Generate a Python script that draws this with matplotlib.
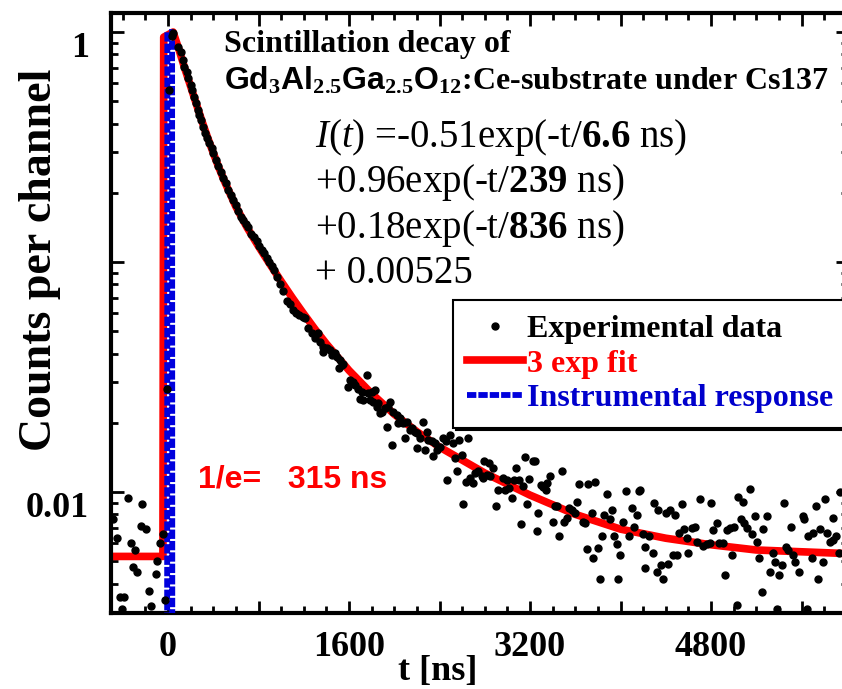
import matplotlib
matplotlib.use('Agg')
import matplotlib.pyplot as plt
from matplotlib.ticker import FixedLocator, FixedFormatter, MultipleLocator, FuncFormatter, LogLocator, NullFormatter

plt.rcParams['font.family'] = 'Liberation Serif'
plt.rcParams['font.weight'] = 'bold'
plt.rcParams['mathtext.fontset'] = 'custom'
plt.rcParams['mathtext.rm'] = 'Liberation Serif:weight=normal'
plt.rcParams['mathtext.it'] = 'Liberation Serif:style=italic:weight=normal'
plt.rcParams['mathtext.bf'] = 'Liberation Serif:weight=bold'
plt.rcParams['mathtext.sf'] = 'Liberation Sans:weight=bold'

# experimental points (t in ns, normalised counts)
exp_t = [-489, -453, -424, -407, -389, -351, -330, -307, -292, -271,
         -241, -233, -194, -168, -150, -110, -95, -71, -44, -27,
         -11, 11, 33, 47, 91, 112, 130, 141, 165, 180,
         200, 215, 230, 248, 262, 277, 292, 307, 327, 342,
         365, 386, 401, 424, 445, 469, 489, 510, 533, 554,
         577, 601, 622, 642, 666, 690, 710, 734, 760, 784,
         804, 828, 849, 872, 893, 917, 937, 966, 990, 1020,
         1052, 1080, 1105, 1130, 1160,
         1196, 1211, 1241, 1270, 1300, 1329, 1344, 1373, 1367, 1403,
         1432, 1447, 1476, 1491, 1521, 1535, 1550, 1515, 1609, 1639,
         1594, 1653, 1683, 1712, 1697, 1727, 1756, 1771, 1801, 1830,
         1786, 1815, 1860, 1845, 1889, 1874, 1919, 1963, 1948, 1992,
         2022, 2051, 2036, 2081, 2110, 2154, 2140, 2184, 2198, 2095,
         2228, 2257, 2287, 2302, 2331, 2361, 2375, 2405,
         1933, 1977, 2198, 2272, 2346,
         2433, 2457, 2492, 2522, 2575, 2654, 2537, 2596, 2551, 2469,
         2634, 2669, 2693, 2713, 2743, 2772, 2793, 2840, 2876, 2817,
         2846, 2787, 2610, 2899, 2920, 2958, 2993, 2979, 3017, 3038,
         3076, 3058, 3105, 3135, 3155, 3223, 3244, 3194, 3176, 3117,
         3259, 3273, 3294, 3318, 3353, 3377, 3341, 3400, 3421, 3441,
         3459, 3480, 3500, 3524, 3547, 3568, 3598, 3618, 3636, 3665,
         3686, 3715, 3745, 3774, 3701, 3760, 3804, 3839, 3854, 3878,
         3907, 3922, 3942, 3966, 3995, 4019, 4045, 4078, 4098, 4119,
         4143, 4163, 3818, 3981,
         4172, 4201, 4216, 4216, 4255, 4284, 4296, 4334, 4319, 4355,
         4378, 4402, 4422, 4437, 4461, 4481, 4496, 4540, 4520, 4561,
         4585, 4599, 4629, 4658, 4679, 4702, 4732, 4761, 4791, 4800,
         4820, 4856, 4873, 4903, 4923, 4944, 4968, 4982, 5003, 5041,
         5062, 5080, 5091, 5115, 5145, 5159, 5189, 5203, 5227, 5248,
         5262, 5298, 5321, 5345, 5366, 5404, 5424, 5445, 5463, 5483,
         5504, 5528, 5542, 5581, 5610, 5622, 5660, 5690, 5704, 5728,
         5743, 5763, 5787, 5808, 5822, 5852, 5875, 5881, 5905, 5934,
         5940, 5027, 5380, 5646]
exp_v = [0.0076, 0.0063, 0.0035, 0.0031, 0.0035, 0.0094, 0.0060, 0.0047, 0.0056, 0.0045,
         0.0071, 0.0089, 0.0069, 0.0037, 0.0032, 0.0044, 0.0050, 0.0060, 0.0066, 0.0034,
         0.028, 0.56, 0.96, 0.99, 0.86, 0.82, 0.755, 0.706, 0.672, 0.629,
         0.588, 0.560, 0.523, 0.490, 0.458, 0.436, 0.414, 0.388, 0.363, 0.345,
         0.328, 0.312, 0.297, 0.278, 0.262, 0.247, 0.231, 0.220, 0.206, 0.195,
         0.186, 0.177, 0.166, 0.157, 0.152, 0.147, 0.142, 0.133, 0.129, 0.123,
         0.117, 0.113, 0.109, 0.104, 0.100, 0.096, 0.092, 0.086, 0.080, 0.075,
         0.068, 0.066, 0.062, 0.060, 0.059,
         0.0578, 0.0569, 0.0515, 0.0490, 0.0466, 0.0490, 0.0451, 0.0429, 0.0408, 0.0422,
         0.0415, 0.0395, 0.0401, 0.0388, 0.0375, 0.0356, 0.0362, 0.0345, 0.0307, 0.0302,
         0.0287, 0.0292, 0.0282, 0.0273, 0.0255, 0.0251, 0.0323, 0.0269, 0.0273, 0.0278,
         0.0251, 0.0247, 0.0243, 0.0235, 0.0223, 0.0220, 0.0231, 0.0247, 0.0235, 0.0223,
         0.0216, 0.0209, 0.0199, 0.0199, 0.0202, 0.0189, 0.0186, 0.0183, 0.0180, 0.0171,
         0.0171, 0.0202, 0.0183, 0.0168, 0.0166, 0.0163, 0.0152, 0.0157,
         0.0192, 0.0160, 0.0155, 0.0152, 0.0143,
         0.0171, 0.0166, 0.0177, 0.0163, 0.0168, 0.0171, 0.0140, 0.0145, 0.0123, 0.0113,
         0.0111, 0.0115, 0.0109, 0.0121, 0.0123, 0.0117, 0.0137, 0.0134, 0.0127, 0.0119,
         0.0117, 0.0115, 0.00887, 0.00869, 0.0102, 0.0115, 0.0113, 0.0102, 0.0104, 0.00939,
         0.0127, 0.0113, 0.0113, 0.0106, 0.0142, 0.0137, 0.0136, 0.0114, 0.00887, 0.00726,
         0.00677, 0.00807, 0.0107, 0.0105, 0.0110, 0.0118, 0.0102, 0.00743, 0.00869, 0.00869,
         0.00646, 0.0124, 0.00743, 0.00769, 0.00850, 0.00836, 0.00807, 0.00902, 0.0108, 0.00743,
         0.00731, 0.0108, 0.00807, 0.0111, 0.00563, 0.00515, 0.00569, 0.00646, 0.00794, 0.00980,
         0.00760, 0.00836, 0.00644, 0.00594, 0.00532, 0.00743, 0.0101, 0.00646, 0.00850, 0.00706,
         0.00794, 0.0101, 0.00417, 0.00417,
         0.0102, 0.00656, 0.00466, 0.00578, 0.00644, 0.00545, 0.00899, 0.00836, 0.00451, 0.00482,
         0.00417, 0.00807, 0.00486, 0.00836, 0.00532, 0.00794, 0.00532, 0.00887, 0.00661, 0.00689,
         0.00630, 0.00545, 0.00695, 0.00706, 0.00608, 0.00933, 0.00582, 0.00594, 0.00598, 0.00899,
         0.00684, 0.00736, 0.00598, 0.00598, 0.00436, 0.00684, 0.00695, 0.00532, 0.00706, 0.00948,
         0.00760, 0.00902, 0.00731, 0.00695, 0.0103, 0.00656, 0.00787, 0.00608, 0.00515, 0.00369,
         0.00689, 0.00787, 0.00451, 0.00545, 0.00498, 0.00436, 0.00482, 0.00899, 0.00578, 0.00560,
         0.00706, 0.00532, 0.00498, 0.00451, 0.00787, 0.00760, 0.00644, 0.00515, 0.00661, 0.00869,
         0.00417, 0.00689, 0.00498, 0.00933, 0.00661, 0.00608, 0.00618, 0.00773, 0.00644, 0.00541,
         0.0100, 0.00323, 0.00309, 0.0031]

# 3 exp fit curve
fit_t = [-504, -45, -38, 45, 100, 150, 200, 250, 300, 350, 400, 450, 500, 600, 700, 800,
         900, 1000, 1100, 1200, 1300, 1400, 1600, 1800, 2000, 2200, 2400, 2800, 3200, 3600,
         4000, 4400, 4800, 5200, 5600, 6011]
fit_v = [0.00525, 0.00525, 0.95, 1.0, 0.83, 0.69, 0.58, 0.487, 0.410, 0.348, 0.298, 0.257,
         0.224, 0.174, 0.141, 0.117, 0.098, 0.0825, 0.0698, 0.0595, 0.0510, 0.0441, 0.0338,
         0.0268, 0.0218, 0.0183, 0.0157, 0.0121, 0.0097, 0.0080, 0.0069, 0.0063, 0.0059,
         0.0056, 0.0055, 0.0054]

# instrumental response
irf_t = [-8, -6, 36, 38]
irf_v = [0.001, 1.0, 1.0, 0.001]

fig = plt.figure(figsize=(8.42, 6.89), dpi=100)
ax = fig.add_axes([111 / 842, 76 / 689, 737 / 842, 600 / 689])

ax.plot(exp_t, exp_v, 'o', color='k', markersize=5, zorder=4, label='Experimental data')
ax.plot(fit_t, fit_v, '-', color='#ff0000', linewidth=5.5, zorder=2, label='3 exp fit')
ax.plot(irf_t, irf_v, '--', color='#0000dd', linewidth=4.2, dashes=(1.6, 0.35), zorder=3,
        label='Instrumental response')

ax.set_yscale('log')
ax.set_xlim(-504, 6011)
ax.set_ylim(0.00298, 1.21)

ax.xaxis.set_major_locator(MultipleLocator(800))
ax.xaxis.set_minor_locator(MultipleLocator(200))
ax.xaxis.set_major_formatter(FuncFormatter(lambda v, p: '%d' % v if int(round(v)) % 1600 == 0 else ''))
ax.yaxis.set_major_locator(FixedLocator([0.01, 0.1, 1]))
ax.yaxis.set_major_formatter(FixedFormatter(['0.01', '', '1']))
ax.yaxis.set_minor_locator(LogLocator(base=10, subs=(2, 3, 4, 5, 6, 7, 8, 9)))
ax.yaxis.set_minor_formatter(NullFormatter())

for s in ax.spines.values():
    s.set_linewidth(3)
ax.tick_params(which='both', direction='in', top=True, right=True, width=2, labelsize=26)
ax.tick_params(which='major', length=9)
ax.tick_params(which='minor', length=5)
ax.tick_params(axis='x', pad=13)
ax.tick_params(axis='y', pad=16)
for lab in ax.yaxis.get_majorticklabels():
    lab.set_verticalalignment('top')

ax.set_ylabel('Counts per channel', fontsize=33, fontweight='bold', va='center')
ax.yaxis.set_label_coords(-0.097, 0.588)
ax.set_xlabel('t [ns]', fontsize=26, fontweight='bold', va='center')
ax.xaxis.set_label_coords(0.443, -0.097)

ax.text(0.1536, 0.935, 'Scintillation decay of', transform=ax.transAxes, fontsize=23, va='baseline')
ax.text(0.1536, 0.8717,
        r'$\mathsf{Gd}_{\mathbf{3}}\mathsf{Al}_{\mathbf{2.5}}\mathsf{Ga}_{\mathbf{2.5}}\mathsf{O}_{\mathbf{12}}$'
        ':Ce-substrate under Cs137', transform=ax.transAxes, fontsize=23, va='baseline')

fit_lines = [r'$I(t)$ =-0.51exp(-t/$\mathbf{6.6}$ ns)',
             r'+0.96exp(-t/$\mathbf{239}$ ns)',
             r'+0.18exp(-t/$\mathbf{836}$ ns)',
             r'+ 0.00525']
fit_y = [0.776, 0.7017, 0.625, 0.55]
for txt, yy in zip(fit_lines, fit_y):
    ax.text(0.277, yy, txt, transform=ax.transAxes, fontsize=28, fontweight='normal', va='baseline')

ax.text(0.118, 0.2217, '1/e=   315 ns', transform=ax.transAxes, fontsize=23, color='#ff0000',
        family='Liberation Sans', fontweight='bold', va='center')

leg = ax.legend(loc='upper left', bbox_to_anchor=(453 / 842, 1 - 300 / 689), bbox_transform=fig.transFigure,
                fontsize=23, frameon=True, fancybox=False, framealpha=1, edgecolor='k',
                borderpad=0.45, labelspacing=0.17, handlelength=1.75, handletextpad=0.12, borderaxespad=0,
                numpoints=1, markerscale=1.0,
                shadow={'color': 'k', 'alpha': 1.0})
leg.get_frame().set_linewidth(1.5)
leg.get_texts()[1].set_color('#ff0000')
leg.get_texts()[2].set_color('#0000cc')

plt.savefig('out.png', dpi=100)
